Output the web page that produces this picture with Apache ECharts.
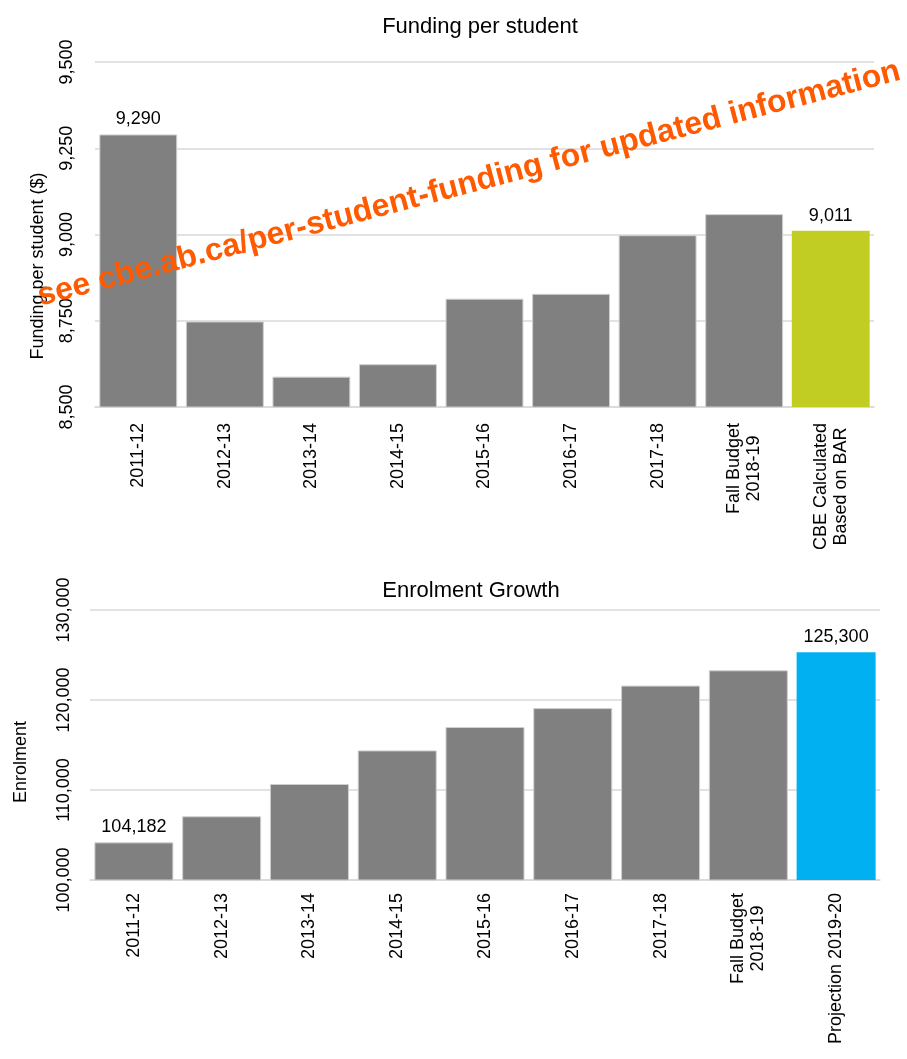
<!DOCTYPE html>
<html>
<head>
<meta charset="utf-8">
<script src="https://cdn.jsdelivr.net/npm/echarts@6/dist/echarts.min.js"></script>
<style>
html,body{margin:0;padding:0;background:#fff;}
#chart{width:907px;height:1059px;}
</style>
</head>
<body>
<div id="chart"></div>
<script>
const fundingCategories = ['2011-12','2012-13','2013-14','2014-15','2015-16','2016-17','2017-18','Fall Budget\n2018-19','CBE Calculated\nBased on BAR'];
const fundingValues = [9290, 8748, 8588, 8624, 8814, 8828, 8998, 9059, 9011];
const fundingLabelled = [0, 8];

const enrolCategories = ['2011-12','2012-13','2013-14','2014-15','2015-16','2016-17','2017-18','Fall Budget\n2018-19','Projection 2019-20'];
const enrolValues = [104182, 107078, 110667, 114400, 117000, 119100, 121600, 123300, 125300];
const enrolLabelled = [0, 8];

const fundingTicks = {min: 8500, max: 9500, interval: 250};
const enrolTicks = {min: 100000, max: 130000, interval: 10000};

const FONT = "'Liberation Sans', Arial, sans-serif";
const GRAY = '#808080';
const fmt = v => Number(v).toLocaleString('en-US');

function barData(values, labelled, lastColor) {
  return values.map((v, i) => ({
    value: v,
    itemStyle: i === values.length - 1
      ? {color: lastColor, borderWidth: 0}
      : {color: GRAY, borderColor: '#cfcfcf', borderWidth: 1},
    label: {show: labelled.indexOf(i) >= 0}
  }));
}

const xLabel = (margin) => ({
  interval: 0, rotate: 90, margin: margin, color: '#000',
  fontFamily: FONT, fontSize: 18, lineHeight: 20,
  formatter: v => v.split('\n').map(s => '{c|' + s + '}').join('\n'),
  rich: {c: {align: 'center', fontFamily: FONT, fontSize: 18, lineHeight: 20, color: '#000'}}
});

const chart = echarts.init(document.getElementById('chart'), null, {renderer: 'canvas'});
chart.setOption({
  animation: false,
  backgroundColor: '#fff',
  title: [
    {text: 'Funding per student', left: 475, textAlign: 'center', top: 11,
     textStyle: {fontFamily: FONT, fontSize: 22, fontWeight: 'normal', color: '#000'}},
    {text: 'Enrolment Growth', left: 466, textAlign: 'center', top: 575,
     textStyle: {fontFamily: FONT, fontSize: 22, fontWeight: 'normal', color: '#000'}}
  ],
  grid: [
    {left: 95, right: 33, top: 62, height: 345, containLabel: false},
    {left: 90, right: 27, top: 610, height: 270, containLabel: false}
  ],
  xAxis: [
    {type: 'category', gridIndex: 0, data: fundingCategories,
     axisLine: {lineStyle: {color: '#d9d9d9', width: 1.5}}, axisTick: {show: false},
     axisLabel: xLabel(16)},
    {type: 'category', gridIndex: 1, data: enrolCategories,
     axisLine: {lineStyle: {color: '#d9d9d9', width: 1.5}}, axisTick: {show: false},
     axisLabel: xLabel(13)}
  ],
  yAxis: [
    {type: 'value', gridIndex: 0, min: fundingTicks.min, max: fundingTicks.max, interval: fundingTicks.interval,
     axisLine: {show: false}, axisTick: {show: false},
     splitLine: {lineStyle: {color: '#d9d9d9', width: 1.5}},
     axisLabel: {rotate: 90, margin: 19, color: '#000', fontFamily: FONT, fontSize: 18, formatter: fmt}},
    {type: 'value', gridIndex: 1, min: enrolTicks.min, max: enrolTicks.max, interval: enrolTicks.interval,
     axisLine: {show: false}, axisTick: {show: false},
     splitLine: {lineStyle: {color: '#d9d9d9', width: 1.5}},
     axisLabel: {rotate: 90, margin: 17, color: '#000', fontFamily: FONT, fontSize: 18, formatter: fmt}}
  ],
  series: [
    {type: 'bar', xAxisIndex: 0, yAxisIndex: 0, barCategoryGap: '10%',
     data: barData(fundingValues, fundingLabelled, '#C1CD23'),
     label: {position: 'top', distance: 6, color: '#000', fontFamily: FONT, fontSize: 18,
             formatter: p => fmt(p.value)}},
    {type: 'bar', xAxisIndex: 1, yAxisIndex: 1, barCategoryGap: '10%',
     data: barData(enrolValues, enrolLabelled, '#00B0F0'),
     label: {position: 'top', distance: 6, color: '#000', fontFamily: FONT, fontSize: 18,
             formatter: p => fmt(p.value)}}
  ],
  graphic: [
    {type: 'text', x: 38, y: 266, rotation: Math.PI / 2, z: 10,
     style: {text: 'Funding per student ($)', fill: '#000', font: "18px " + FONT, align: 'center', verticalAlign: 'middle'}},
    {type: 'text', x: 21, y: 762, rotation: Math.PI / 2, z: 10,
     style: {text: 'Enrolment', fill: '#000', font: "18px " + FONT, align: 'center', verticalAlign: 'middle'}},
    {type: 'text', x: 469, y: 184, rotation: 0.2573, z: 100,
     style: {text: 'see cbe.ab.ca/per-student-funding for updated information', fill: '#FF5A00',
             font: "bold 32px " + FONT, align: 'center', verticalAlign: 'middle'}}
  ]
});
</script>
</body>
</html>
